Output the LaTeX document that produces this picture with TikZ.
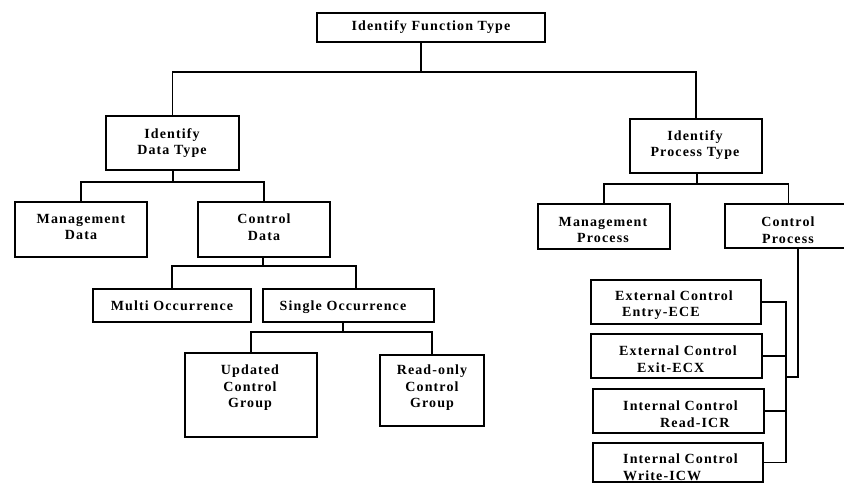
\documentclass[tikz,border=0pt]{standalone}
\usepackage{fontspec}
\setmainfont{Liberation Serif}[LetterSpace=8]
\usetikzlibrary{fit}
\begin{document}
\begin{tikzpicture}[x=1pt,y=-1pt,
  box/.style={draw, line width=1.6pt, inner sep=0pt},
  lbl/.style={font=\fontsize{14}{16.5}\selectfont\bfseries, align=center, inner sep=0pt},
  lbll/.style={lbl, align=left, anchor=west},
  wire/.style={line width=1.6pt}]
\useasboundingbox (0,0) rectangle (844,485);
\clip (0,0) rectangle (844,485);

% --- boxes ---
\node[box, fit={(317,13) (545,42)}] (fn) {};
\node[lbl] (fn-t) at (431,27) {Identify Function Type};

\node[box, fit={(106,116) (239,170)}] (dt) {};
\node[lbl] (dt-t) at (172,143) {Identify\\Data Type};

\node[box, fit={(630,119) (762,173)}] (pt) {};
\node[lbl] (pt-t) at (695,145) {Identify\\Process Type};

\node[box, fit={(15,202) (147,257)}] (md) {};
\node[lbl] (md-t) at (81,227) {Management\\Data};

\node[box, fit={(198,202) (330,257)}] (cd) {};
\node[lbl] (cd-t) at (264,227) {Control\\Data};

\node[box, fit={(93,289) (251,322)}] (mo) {};
\node[lbl] (mo-t) at (172,306) {Multi Occurrence};

\node[box, fit={(263,289) (434,322)}] (so) {};
\node[lbl] (so-t) at (343,307) {Single Occurrence};

\node[box, fit={(185,353) (317,437)}] (uc) {};
\node[lbl] (uc-t) at (250,388) {Updated\\Control\\Group};

\node[box, fit={(380,355) (484,426)}] (rc) {};
\node[lbl] (rc-t) at (432,388) {Read-only\\Control\\Group};

\node[box, fit={(538,204) (670,249)}] (mp) {};
\node[lbl] (mp-t) at (603,230) {Management\\Process};

\node[box, fit={(725,204) (852,248)}] (cp) {};
\node[lbl] (cp-t) at (788,230) {Control\\Process};

\node[box, fit={(591,280) (761,324)}] (ece) {};
\node[lbll] (ece-t) at (615,305) {External Control\\\hspace*{7pt}Entry-ECE};

\node[box, fit={(591,334) (762,378)}] (ecx) {};
\node[lbll] (ecx-t) at (619,359) {External Control\\\hspace*{18pt}Exit-ECX};

\node[box, fit={(593,389) (764,433)}] (icr) {};
\node[lbll] (icr-t) at (623,414) {Internal Control\\\hspace*{37pt}Read-ICR};

\node[box, fit={(593,443) (763,482)}] (icw) {};
\node[lbll] (icw-t) at (623,467) {Internal Control\\Write-ICW};

% --- junction points ---
\coordinate (j1) at (421,72);
\coordinate (j2) at (173,182);
\coordinate (j3) at (263,266);
\coordinate (j3r) at (356,266);
\coordinate (j4) at (343,332);
\coordinate (j5) at (697,184);
\coordinate (bus) at (786,0);
\coordinate (cpd) at (798,377);

% --- tree connectors ---
\draw[wire] (fn.south -| j1) -- (j1);
\draw[wire] (dt.north) |- (j1) -| (pt.north);

\draw[wire] (dt.south -| j2) -- (j2);
\draw[wire] (md.north) |- (j2) -| (cd.north);

\draw[wire] (cd.south -| j3) -- (j3);
\draw[wire] (mo.north) |- (j3) -- (j3r) -- (j3r |- so.north);

\draw[wire] (so.south -| j4) -- (j4);
\draw[wire] (uc.north) |- (j4) -| (rc.north);

\draw[wire] (pt.south -| j5) -- (j5);
\draw[wire] (mp.north) |- (j5) -| (cp.north);

% --- control process bus ---
\draw[wire] (cp.south -| cpd) -- (cpd) -- (cpd -| bus);
\draw[wire] (ece.east) -- (ece.east -| bus) -- (icw.east -| bus) -- (icw.east);
\draw[wire] (ecx.east) -- (ecx.east -| bus);
\draw[wire] (icr.east) -- (icr.east -| bus);
\end{tikzpicture}
\end{document}
